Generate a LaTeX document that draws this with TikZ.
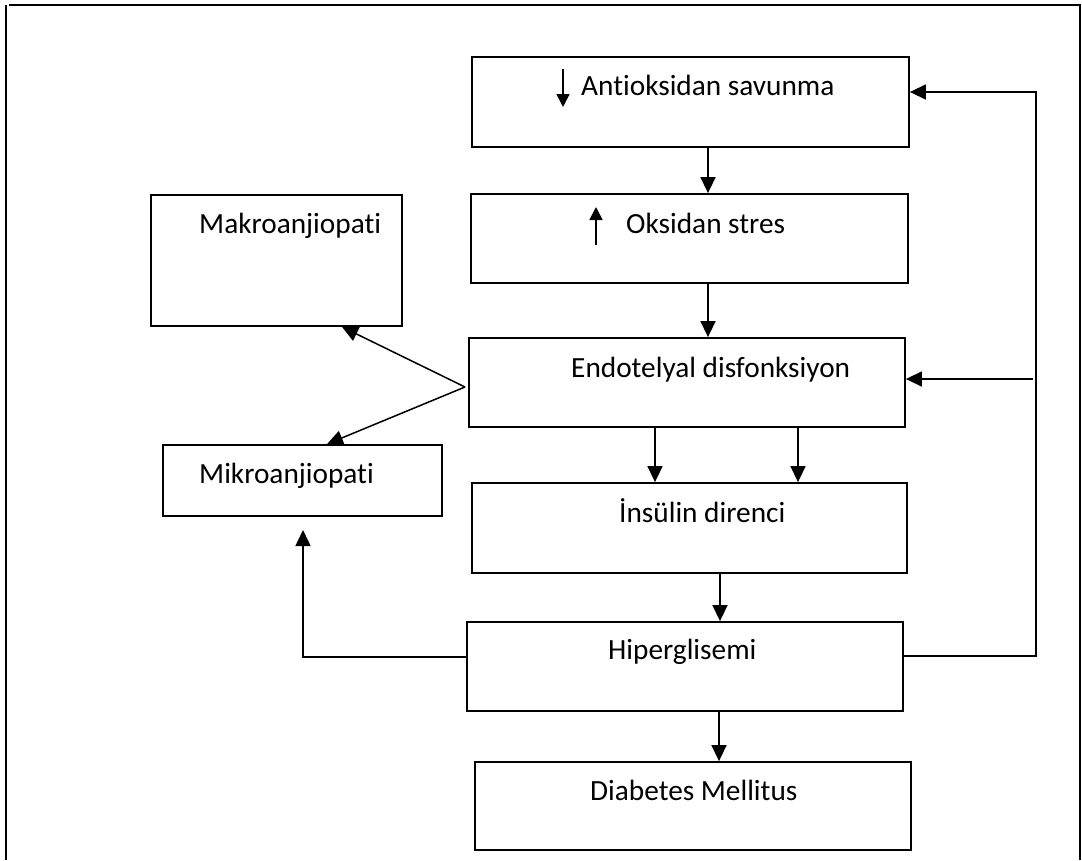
\documentclass[tikz,border=0pt]{standalone}
\usepackage{fontspec}
\setmainfont{Carlito}[Ligatures={NoCommon}]
\usetikzlibrary{arrows.meta,calc}
\tikzset{
  box/.style={draw, line width=1.8pt, rectangle, inner sep=0pt},
  lbl/.style={anchor=base west, inner sep=0pt, font=\fontsize{29.3pt}{33pt}\selectfont},
  arr/.style={line width=1.5pt, -{Triangle[length=16pt,width=15pt]}},
  smallarr/.style={line width=1.6pt, -{Triangle[length=13pt,width=13pt]}},
  frameline/.style={line width=2pt}
}
\begin{document}
\begin{tikzpicture}[x=1pt,y=-1pt]
\useasboundingbox (0,0) rectangle (1082,860);
% outer frame
\coordinate (fa) at (6,5);
\coordinate (fb) at (6,860);
\coordinate (fc) at (9,5);
\coordinate (fd) at (1080,5);
\coordinate (fe) at (1080,860);
\draw[frameline] (fa) -- (fb);
\draw[frameline] (fc) -- (fd) -- (fe);

% boxes
\node[box, minimum width=437pt, minimum height=90pt] (anti) at (690.5,102) {};
\node[box, minimum width=437pt, minimum height=89pt] (oks) at (689.5,238.5) {};
\node[box, minimum width=436pt, minimum height=89pt] (endo) at (687,382.5) {};
\node[box, minimum width=435pt, minimum height=90pt] (ins) at (689.5,528) {};
\node[box, minimum width=436pt, minimum height=89pt] (hip) at (685,666.5) {};
\node[box, minimum width=436pt, minimum height=88pt] (dm) at (693,806) {};
\node[box, minimum width=251pt, minimum height=131pt] (makro) at (276.5,260.5) {};
\node[box, minimum width=279pt, minimum height=71pt] (mikro) at (302.5,480.5) {};

% labels
\node[lbl] (tanti) at (581,95) {Antioksidan savunma};
\node[lbl] (toks) at (626,233) {Oksidan stres};
\node[lbl] (tmakro) at (199,233) {Makroanjiopati};
\node[lbl] (tendo) at (571,377) {Endotelyal disfonksiyon};
\node[lbl] (tmikro) at (199,483) {Mikroanjiopati};
\node[lbl] (tins) at (619,522) {İnsülin direnci};
\node[lbl] (thip) at (608,659) {Hiperglisemi};
\node[lbl] (tdm) at (590,800) {Diabetes Mellitus};

% small arrows in labels
\coordinate (sa1) at (563,69);
\coordinate (sa2) at (563,107);
\draw[smallarr] (sa1) -- (sa2);
\coordinate (su1) at (596,245);
\coordinate (su2) at (596,207);
\draw[smallarr] (su1) -- (su2);

% column coordinates
\coordinate (c1) at (708,0);
\coordinate (c2) at (655,0);
\coordinate (c3) at (798,0);
\coordinate (c4) at (720,0);
\coordinate (c5) at (719,0);
\coordinate (cmk) at (342,0);
\coordinate (cmi) at (327,0);

% vertical chain
\draw[arr] (anti.south -| c1) -- (oks.north -| c1);
\draw[arr] (oks.south -| c1) -- (endo.north -| c1);
\draw[arr] (endo.south -| c2) -- (ins.north -| c2);
\draw[arr] (endo.south -| c3) -- (ins.north -| c3);
\draw[arr] (ins.south -| c4) -- (hip.north -| c4);
\draw[arr] (hip.south -| c5) -- (dm.north -| c5);

% endo to makro / mikro
\coordinate (split) at (465,387);
\draw[arr] (split) -- (makro.south -| cmk);
\draw[arr] (split) -- (mikro.north -| cmi);

% hiperglisemi to mikro
\coordinate (hl) at (0,657);
\coordinate (mtip) at (303,530);
\draw[arr] (hip.west |- hl) -| (mtip);

% hiperglisemi feedback loop
\coordinate (hr) at (0,656);
\coordinate (rx) at (1036,0);
\coordinate (ty) at (0,92);
\coordinate (ey) at (0,379);
\coordinate (eb) at (1033,379);
\draw[arr] (hip.east |- hr) -- (rx |- hr) -- (rx |- ty) -- (anti.east |- ty);
\draw[arr] (eb) -- (endo.east |- ey);
\end{tikzpicture}
\end{document}
